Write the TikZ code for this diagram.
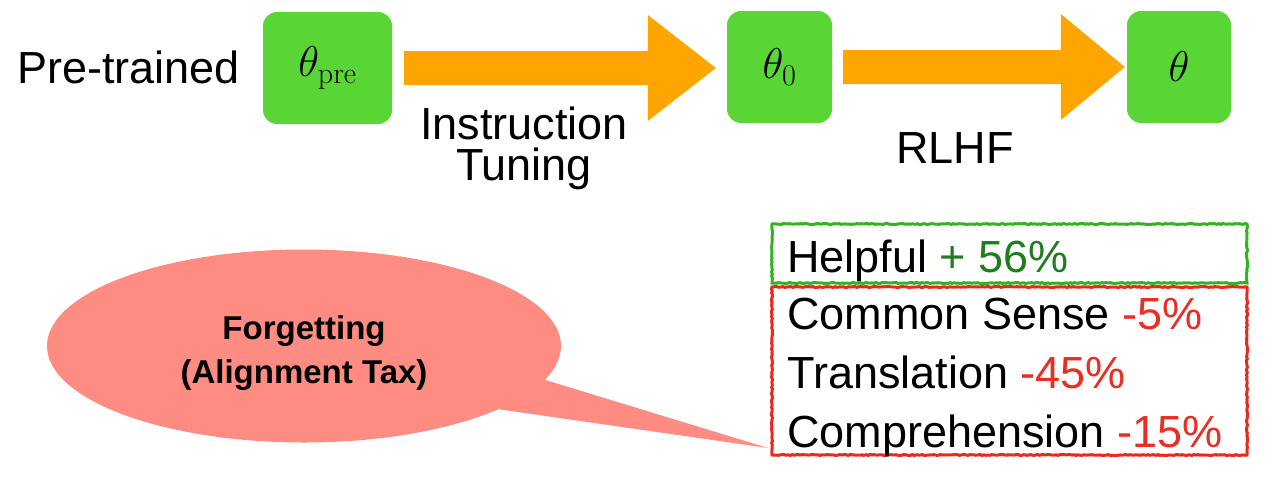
\RequirePackage{fix-cm}
\documentclass[tikz,border=0pt]{standalone}
\usepackage[no-math]{fontspec}
\setmainfont{Liberation Sans}
\usetikzlibrary{calc,shapes.geometric,decorations.pathmorphing}
\definecolor{boxgreen}{RGB}{90,213,54}
\definecolor{arrorange}{RGB}{255,165,0}
\definecolor{bubble}{RGB}{255,140,130}
\definecolor{outgreen}{RGB}{50,180,30}
\definecolor{outred}{RGB}{235,40,30}
\definecolor{txtgreen}{RGB}{30,125,30}
\definecolor{txtred}{RGB}{235,45,35}
\begin{document}
\begin{tikzpicture}[x=1pt,y=-1pt,
  parambox/.style={fill=boxgreen, rounded corners=14pt, inner sep=0pt,
    minimum height=112pt, font=\fontsize{43}{50}\selectfont},
  bigtext/.style={font=\fontsize{45}{41}\selectfont, inner sep=0pt},
  roughbox/.style={draw=#1, line width=3pt, inner sep=0pt,
    decorate, decoration={random steps, segment length=2pt, amplitude=0.5pt}},
  fat/.style={fill=arrorange}]
\useasboundingbox (0,0) rectangle (1280,485);

% parameter boxes
\node[parambox, minimum width=129pt] (pre) at (327.5,68) {$\theta_{\mathrm{pre}}$};
\node[parambox, minimum width=105pt] (t0) at (779.5,67) {$\theta_0$};
\node[parambox, minimum width=104pt] (t) at (1179,67) {$\theta$};

% fat arrows
\fill[fat] let \p1=($(pre.east)+(12,0)$), \p2=($(t0.west)+(-11,0)$) in
  (\x1,\y1-17pt) -- (\x2-68pt,\y1-17pt) -- (\x2-68pt,\y1-53pt) -- (\x2,\y1)
  -- (\x2-68pt,\y1+53pt) -- (\x2-68pt,\y1+17pt) -- (\x1,\y1+17pt) -- cycle;
\fill[fat] let \p1=($(t0.east)+(11,0)$), \p2=($(t.west)+(-2,0)$) in
  (\x1,\y1-17pt) -- (\x2-64pt,\y1-17pt) -- (\x2-64pt,\y1-53pt) -- (\x2,\y1)
  -- (\x2-64pt,\y1+53pt) -- (\x2-64pt,\y1+17pt) -- (\x1,\y1+17pt) -- cycle;

% labels
\node[bigtext, anchor=base west] (ptlab) at (17,83) {Pre-trained};
\node[bigtext, align=center, anchor=north] (itlab) at (524,107) {Instruction\\Tuning};
\node[bigtext, anchor=north] (rllab) at (955,132) {RLHF};

% result boxes
\node[roughbox=outgreen, minimum width=475pt, minimum height=59pt] (help) at (1009.5,253.5) {};
\node[roughbox=outred, minimum width=475pt, minimum height=168pt] (loss) at (1009.5,371) {};
\node[bigtext, anchor=base west] (h1) at (787,272) {Helpful \textcolor{txtgreen}{+ 56\%}};
\node[bigtext, anchor=base west] (h2) at (787,329) {Common Sense \textcolor{txtred}{-5\%}};
\node[bigtext, anchor=base west] (h3) at (787,388) {Translation \textcolor{txtred}{-45\%}};
\node[bigtext, anchor=base west] (h4) at (787,447) {Comprehension \textcolor{txtred}{-15\%}};

% speech bubble
\node[ellipse, fill=bubble, inner sep=0pt, minimum width=514pt, minimum height=193pt] (forget) at (304,346) {};
\coordinate (tip) at (768,448);
\fill[bubble] (forget.-8.5) -- (tip) -- (forget.-18.3) -- cycle;
\node[font=\bfseries\fontsize{33}{44}\selectfont, align=center, inner sep=0pt, anchor=north] (ftext) at (304,315) {Forgetting\\(Alignment Tax)};
\end{tikzpicture}
\end{document}
